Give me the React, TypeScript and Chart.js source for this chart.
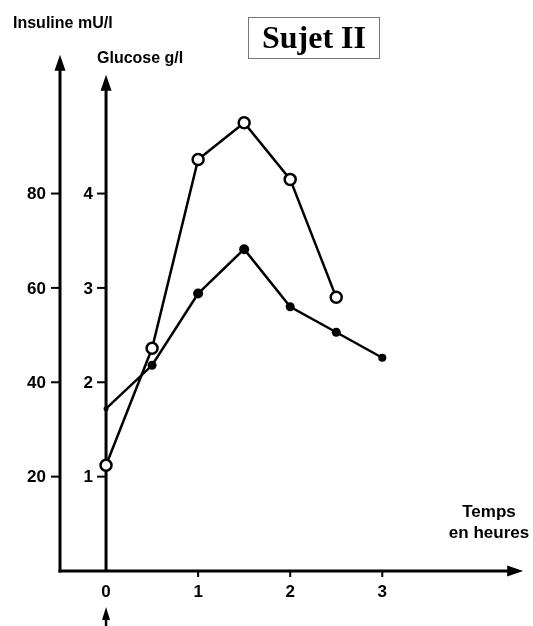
import React, { useEffect, useRef } from "react";
import { Chart, registerables } from "chart.js";

Chart.register(...registerables);

// Time (hours)
const glucoseTimes = [0, 0.5, 1, 1.5, 2, 2.5];
const glucoseValues = [1.12, 2.36, 4.36, 4.75, 4.15, 2.9]; // g/l (open circles)

const insulinTimes = [0, 0.5, 1, 1.5, 2, 2.5, 3];
const insulinValues = [34.4, 43.6, 58.8, 68.2, 56, 50.6, 45.2]; // mU/l (filled dots)
const insulinRadii = [2.5, 4.5, 5, 5, 4.5, 4.5, 4];

const xTicks = [0, 1, 2, 3];
const glucoseTicks = [1, 2, 3, 4];
const insulinTicks = [20, 40, 60, 80];

const title = "Sujet II";
const insulinLabel = "Insuline mU/l";
const glucoseLabel = "Glucose g/l";
const timeLabel = ["Temps", "en heures"];

const axesPlugin = {
  id: "customAxes",
  beforeDatasetsDraw(chart: any) {
    const ctx = chart.ctx;
    const x = chart.scales.x;
    const y = chart.scales.y;
    const y2 = chart.scales.y2;
    const xL = x.getPixelForValue(-0.5);
    const x0 = x.getPixelForValue(0);
    const yBase = y.getPixelForValue(0);
    ctx.save();
    ctx.strokeStyle = "#000";
    ctx.fillStyle = "#000";
    ctx.lineWidth = 3;
    ctx.lineCap = "butt";

    const arrowUp = (px: number, tip: number) => {
      ctx.beginPath();
      ctx.moveTo(px, tip);
      ctx.lineTo(px - 5.5, tip + 16);
      ctx.lineTo(px + 5.5, tip + 16);
      ctx.closePath();
      ctx.fill();
    };

    // Insulin axis
    const tipL = y.getPixelForValue(5.47);
    ctx.beginPath();
    ctx.moveTo(xL, yBase + 1.5);
    ctx.lineTo(xL, tipL + 10);
    ctx.stroke();
    arrowUp(xL, tipL);

    // Glucose axis
    const tipG = y.getPixelForValue(5.26);
    ctx.beginPath();
    ctx.moveTo(x0, yBase);
    ctx.lineTo(x0, tipG + 10);
    ctx.stroke();
    arrowUp(x0, tipG);

    // Time axis
    const tipX = x.getPixelForValue(4.53);
    ctx.beginPath();
    ctx.moveTo(xL - 1.5, yBase);
    ctx.lineTo(tipX - 10, yBase);
    ctx.stroke();
    ctx.beginPath();
    ctx.moveTo(tipX, yBase);
    ctx.lineTo(tipX - 16, yBase - 5.5);
    ctx.lineTo(tipX - 16, yBase + 5.5);
    ctx.closePath();
    ctx.fill();

    // Ticks
    ctx.lineWidth = 2;
    insulinTicks.forEach((v) => {
      const py = y2.getPixelForValue(v);
      ctx.beginPath();
      ctx.moveTo(xL - 9, py);
      ctx.lineTo(xL, py);
      ctx.stroke();
    });
    glucoseTicks.forEach((v) => {
      const py = y.getPixelForValue(v);
      ctx.beginPath();
      ctx.moveTo(x0 - 9, py);
      ctx.lineTo(x0, py);
      ctx.stroke();
    });
    xTicks.forEach((v) => {
      if (v === 0) return;
      const px = x.getPixelForValue(v);
      ctx.beginPath();
      ctx.moveTo(px, yBase);
      ctx.lineTo(px, yBase + 6);
      ctx.stroke();
    });

    // Tick labels
    ctx.font = "bold 17px 'Liberation Sans', Arial, sans-serif";
    ctx.textAlign = "right";
    ctx.textBaseline = "middle";
    insulinTicks.forEach((v) => {
      ctx.fillText(String(v), xL - 14, y2.getPixelForValue(v) + 1);
    });
    glucoseTicks.forEach((v) => {
      ctx.fillText(String(v), x0 - 13, y.getPixelForValue(v) + 1);
    });
    ctx.textAlign = "center";
    xTicks.forEach((v) => {
      ctx.fillText(String(v), x.getPixelForValue(v), yBase + 21);
    });

    // Ingestion arrow under 0
    ctx.lineWidth = 2.5;
    ctx.beginPath();
    ctx.moveTo(x0, chart.height);
    ctx.lineTo(x0, yBase + 44);
    ctx.stroke();
    ctx.beginPath();
    ctx.moveTo(x0, yBase + 36);
    ctx.lineTo(x0 - 4, yBase + 49);
    ctx.lineTo(x0 + 4, yBase + 49);
    ctx.closePath();
    ctx.fill();

    // Axis titles
    ctx.font = "bold 16px 'Liberation Sans', Arial, sans-serif";
    ctx.textAlign = "left";
    ctx.textBaseline = "alphabetic";
    ctx.fillText(insulinLabel, 13, 28);
    ctx.fillText(glucoseLabel, 97, 63);

    ctx.font = "bold 17px 'Liberation Sans', Arial, sans-serif";
    ctx.textAlign = "center";
    ctx.fillText(timeLabel[0], 489, 517);
    ctx.fillText(timeLabel[1], 489, 538);

    // Title box
    ctx.lineWidth = 1;
    ctx.strokeStyle = "#777";
    ctx.strokeRect(248.5, 17.5, 131, 41);
    ctx.font = "bold 32px 'Liberation Serif', 'DejaVu Serif', serif";
    ctx.fillStyle = "#000";
    ctx.fillText(title, 314, 48);

    ctx.restore();
  },
};

export default function App() {
  const canvasRef = useRef<HTMLCanvasElement | null>(null);

  useEffect(() => {
    if (!canvasRef.current) return;
    const chart = new Chart(canvasRef.current, {
      type: "scatter",
      data: {
        datasets: [
          {
            label: "Insuline",
            data: insulinTimes.map((t, i) => ({ x: t, y: insulinValues[i] })),
            yAxisID: "y2",
            showLine: true,
            borderColor: "#000",
            backgroundColor: "#000",
            borderWidth: 2.5,
            pointRadius: insulinRadii,
            pointBorderWidth: 0,
            pointBackgroundColor: "#000",
            order: 2,
          },
          {
            label: "Glucose",
            data: glucoseTimes.map((t, i) => ({ x: t, y: glucoseValues[i] })),
            yAxisID: "y",
            showLine: true,
            borderColor: "#000",
            backgroundColor: "#fff",
            borderWidth: 2.5,
            pointRadius: 5.5,
            pointBorderWidth: 2.5,
            pointBackgroundColor: "#fff",
            pointBorderColor: "#000",
            order: 1,
          },
        ],
      },
      options: {
        responsive: false,
        animation: false,
        maintainAspectRatio: false,
        layout: { padding: { left: 60, right: 3, top: 52, bottom: 55 } },
        plugins: {
          legend: { display: false },
          tooltip: { enabled: false },
          title: { display: false },
        },
        scales: {
          x: { type: "linear", min: -0.5, max: 4.55, display: false },
          y: { type: "linear", min: 0, max: 5.5, display: false },
          y2: { type: "linear", min: 0, max: 110, display: false },
        },
      },
      plugins: [axesPlugin],
    });
    return () => chart.destroy();
  }, []);

  return (
    <div style={{ position: "fixed", left: 0, top: 0, width: 533, height: 626, background: "#fff" }}>
      <canvas ref={canvasRef} width={533} height={626} style={{ display: "block" }} />
    </div>
  );
}
